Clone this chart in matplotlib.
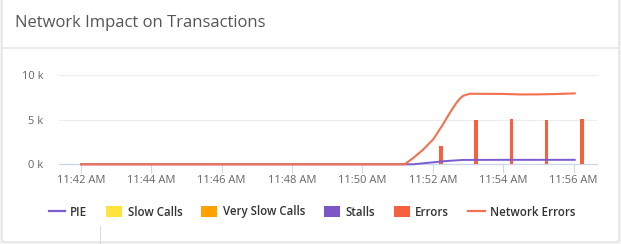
import pandas as pd
import matplotlib.pyplot as plt
import matplotlib.dates as mdates
from matplotlib.lines import Line2D
from matplotlib.patches import Patch, FancyBboxPatch

plt.rcParams['font.family'] = ['Open Sans', 'DejaVu Sans']

# network errors line (time, value)
net_times = ["11:42:00", "11:51:00", "11:51:12", "11:51:26", "11:51:43", "11:52:01",
             "11:52:17", "11:52:29", "11:52:40", "11:52:46", "11:52:52", "11:53:03",
             "11:54:00", "11:54:30", "11:55:00", "11:55:30", "11:56:02"]
net_values = [0, 0, 0, 680, 1610, 2820, 4440, 5760, 6850, 7350, 7680, 7900,
              7880, 7820, 7830, 7870, 7940]

# PIE line
pie_times = ["11:42:00", "11:51:00", "11:51:26", "11:52:01", "11:52:23", "11:52:52",
             "11:54:00", "11:55:00", "11:56:02"]
pie_values = [0, 0, 0, 225, 370, 490, 500, 500, 500]

# error columns, one per minute
err_times = ["11:52", "11:53", "11:54", "11:55", "11:56"]
err_values = [2100, 4970, 5110, 4970, 5110]

legend_labels = ["PIE", "Slow Calls", "Very Slow Calls", "Stalls", "Errors", "Network Errors"]
legend_colors = ["#7a5cd1", "#ffe23c", "#ffa100", "#7d55c7", "#f7603f", "#f2714f"]

day = "2019-01-01 "
net_t = pd.to_datetime([day + t for t in net_times])
pie_t = pd.to_datetime([day + t for t in pie_times])
err_t = pd.to_datetime([day + t for t in err_times]) + pd.Timedelta(seconds=14)

fig = plt.figure(figsize=(6.21, 2.44), dpi=100)
fig.patch.set_facecolor("#f4f4f4")

# white card with rounded corners
W, H = 621.0, 244.0
card = FancyBboxPatch((2 / W, 2 / H), 617 / W, 260 / H,
                      boxstyle="round,pad=0,rounding_size=0.008",
                      transform=fig.transFigure, facecolor="white",
                      edgecolor="#e2e2e2", linewidth=1, zorder=-5)
fig.patches.append(card)
fig.add_artist(Line2D([3 / W, 618 / W], [1 - 48 / H, 1 - 48 / H], color="#e9e9e9",
                      linewidth=1.3, transform=fig.transFigure))
fig.add_artist(Line2D([100 / W, 100 / W], [0, 1 - 226 / H], color="#d8d8d8",
                      linewidth=0.7, transform=fig.transFigure))

fig.text(15 / W, 1 - 23 / H, "Network Impact on Transactions", fontsize=12,
         color="#555555", va="center", ha="left")

ax = fig.add_axes([59 / W, 1 - 164.3 / H, 538 / W, (164.3 - 75) / H])
ax.set_facecolor("none")

ax.bar(err_t, err_values, width=6 / 86400, color="#f7603f", zorder=3)
ax.plot(pie_t, pie_values, color="#7a5cd1", linewidth=1.4, zorder=4, clip_on=False)
ax.plot(net_t, net_values, color="#f2714f", linewidth=1.5, zorder=5,
        solid_joinstyle="round", clip_on=False)

x0 = pd.Timestamp(day + "11:42:00")
ax.set_xlim(x0 - pd.Timedelta(seconds=37.5), x0 + pd.Timedelta(seconds=880))
ax.set_ylim(0, 10000)

ax.xaxis.set_major_locator(mdates.MinuteLocator(byminute=range(0, 60, 2)))
ax.xaxis.set_major_formatter(mdates.DateFormatter("%I:%M %p"))
ax.set_yticks([0, 5000, 10000])
ax.set_yticklabels(["0 k", "5 k", "10 k"])

for s in ["top", "right", "left"]:
    ax.spines[s].set_visible(False)
ax.spines["bottom"].set_color("#ccd6eb")
ax.spines["bottom"].set_linewidth(0.9)
ax.grid(axis="y", color="#ececec", linewidth=0.8, zorder=0)
ax.tick_params(axis="x", length=6.5, width=0.7, color="#ccd6eb", pad=1.5,
               labelsize=8, labelcolor="#666666")
ax.tick_params(axis="y", length=0, pad=11, labelsize=8, labelcolor="#666666")

handles = []
for lab, col in zip(legend_labels, legend_colors):
    if lab in ("PIE", "Network Errors"):
        handles.append(Line2D([], [], color=col, linewidth=1.6))
    else:
        handles.append(Patch(facecolor=col, edgecolor="none"))
fig.legend(handles, legend_labels, loc="center", bbox_to_anchor=(312 / W, 1 - 212 / H),
           ncol=6, frameon=False, labelcolor="#333333",
           prop={"family": "Open Sans", "size": 8.3, "weight": 600},
           handlelength=1.4, handleheight=1.0, handletextpad=0.45,
           columnspacing=1.65)

fig.savefig("out.png", dpi=100, facecolor=fig.get_facecolor())
